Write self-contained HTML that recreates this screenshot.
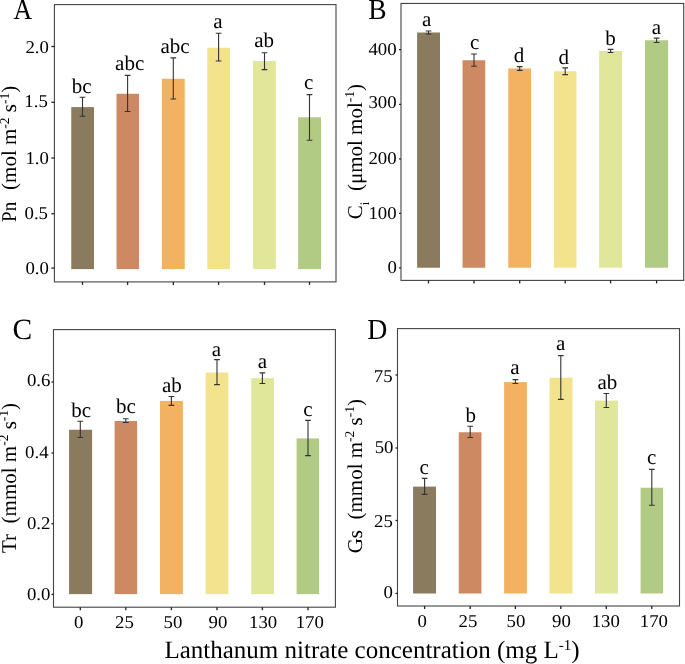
<!DOCTYPE html>
<html><head><meta charset="utf-8"><style>
html,body{margin:0;padding:0;background:#fff;}
svg{display:block;will-change:transform;}
text{font-family:"Liberation Serif", serif;fill:#000;white-space:pre;text-rendering:geometricPrecision;}
</style></head><body>
<svg width="685" height="664" viewBox="0 0 685 664">
<rect width="685" height="664" fill="#fff"/>
<rect x="71.25" y="107.1" width="22.75" height="162" fill="#8a7b5f"/>
<rect x="116.5" y="93.75" width="22.5" height="175.35" fill="#cd8a62"/>
<rect x="161.9" y="78.75" width="22.85" height="190.35" fill="#f3b262"/>
<rect x="207.25" y="47.75" width="22.75" height="221.35" fill="#f3e38d"/>
<rect x="253.1" y="61" width="22.8" height="208.1" fill="#e1e79a"/>
<rect x="298.1" y="117.25" width="22.9" height="151.85" fill="#b2cb84"/>
<path d="M79.65 97.25H85.35M82.5 97.25V116.25M79.65 116.25H85.35" stroke="#333" stroke-width="1.1" fill="none"/>
<text x="81.75" y="93.1" font-size="21" text-anchor="middle">bc</text>
<path d="M124.75 75.4H130.45M127.6 75.4V111.5M124.75 111.5H130.45" stroke="#333" stroke-width="1.1" fill="none"/>
<text x="129.7" y="69.75" font-size="21" text-anchor="middle">abc</text>
<path d="M170.45 57.9H176.15M173.3 57.9V99M170.45 99H176.15" stroke="#333" stroke-width="1.1" fill="none"/>
<text x="175" y="52.75" font-size="21" text-anchor="middle">abc</text>
<path d="M215.75 33.25H221.45M218.6 33.25V61M215.75 61H221.45" stroke="#333" stroke-width="1.1" fill="none"/>
<text x="218" y="28.1" font-size="21" text-anchor="middle">a</text>
<path d="M261.65 52.75H267.35M264.5 52.75V69.6M261.65 69.6H267.35" stroke="#333" stroke-width="1.1" fill="none"/>
<text x="264.1" y="46.5" font-size="21" text-anchor="middle">ab</text>
<path d="M306.65 94.6H312.35M309.5 94.6V140.25M306.65 140.25H312.35" stroke="#333" stroke-width="1.1" fill="none"/>
<text x="308.75" y="88.75" font-size="21" text-anchor="middle">c</text>
<rect x="54.4" y="4.6" width="281.6" height="277.3" fill="none" stroke="#444" stroke-width="1.1"/>
<path d="M51.4 268.1H54.4" stroke="#222" stroke-width="1.3"/>
<text transform="translate(48.9 274.4) scale(1.045 1)" font-size="18" text-anchor="end">0.0</text>
<path d="M51.4 213.7H54.4" stroke="#222" stroke-width="1.3"/>
<text transform="translate(48 218.55) scale(1.045 1)" font-size="18" text-anchor="end">0.5</text>
<path d="M51.4 158H54.4" stroke="#222" stroke-width="1.3"/>
<text transform="translate(48.9 164.3) scale(1.045 1)" font-size="18" text-anchor="end">1.0</text>
<path d="M51.4 102.3H54.4" stroke="#222" stroke-width="1.3"/>
<text transform="translate(47.8 107.1) scale(1.045 1)" font-size="18" text-anchor="end">1.5</text>
<path d="M51.4 46.5H54.4" stroke="#222" stroke-width="1.3"/>
<text transform="translate(48.9 52.7) scale(1.045 1)" font-size="18" text-anchor="end">2.0</text>
<path d="M82.5 281.9V284.9" stroke="#222" stroke-width="1.3"/>
<path d="M127.6 281.9V284.9" stroke="#222" stroke-width="1.3"/>
<path d="M173.3 281.9V284.9" stroke="#222" stroke-width="1.3"/>
<path d="M218.6 281.9V284.9" stroke="#222" stroke-width="1.3"/>
<path d="M264.5 281.9V284.9" stroke="#222" stroke-width="1.3"/>
<path d="M309.5 281.9V284.9" stroke="#222" stroke-width="1.3"/>
<rect x="417.1" y="32.5" width="22.9" height="235.25" fill="#8a7b5f"/>
<rect x="462.5" y="60.25" width="22.75" height="207.5" fill="#cd8a62"/>
<rect x="508.25" y="68.5" width="22.75" height="199.25" fill="#f3b262"/>
<rect x="554" y="71.25" width="22.5" height="196.5" fill="#f3e38d"/>
<rect x="599.1" y="51" width="23" height="216.75" fill="#e1e79a"/>
<rect x="645" y="40.25" width="23.1" height="227.5" fill="#b2cb84"/>
<path d="M425.65 31H431.35M428.5 31V34M425.65 34H431.35" stroke="#333" stroke-width="1.1" fill="none"/>
<text x="426.7" y="26.25" font-size="21" text-anchor="middle">a</text>
<path d="M471.15 54H476.85M474 54V66.25M471.15 66.25H476.85" stroke="#333" stroke-width="1.1" fill="none"/>
<text x="474.7" y="48.5" font-size="21" text-anchor="middle">c</text>
<path d="M516.85 66.6H522.55M519.7 66.6V70.4M516.85 70.4H522.55" stroke="#333" stroke-width="1.1" fill="none"/>
<text x="519.1" y="61.9" font-size="21" text-anchor="middle">d</text>
<path d="M562.35 67.9H568.05M565.2 67.9V74.6M562.35 74.6H568.05" stroke="#333" stroke-width="1.1" fill="none"/>
<text x="563.75" y="63.75" font-size="21" text-anchor="middle">d</text>
<path d="M607.75 49.4H613.45M610.6 49.4V52.5M607.75 52.5H613.45" stroke="#333" stroke-width="1.1" fill="none"/>
<text x="610.5" y="45" font-size="21" text-anchor="middle">b</text>
<path d="M653.75 38.1H659.45M656.6 38.1V42.5M653.75 42.5H659.45" stroke="#333" stroke-width="1.1" fill="none"/>
<text x="656.4" y="34" font-size="21" text-anchor="middle">a</text>
<rect x="401" y="3.46" width="282.7" height="276.94" fill="none" stroke="#444" stroke-width="1.1"/>
<path d="M399 267.9H401" stroke="#222" stroke-width="1.3"/>
<text transform="translate(396.8 273.3) scale(1.045 1)" font-size="18" text-anchor="end">0</text>
<path d="M399 213.4H401" stroke="#222" stroke-width="1.3"/>
<text transform="translate(396.6 218.5) scale(1.045 1)" font-size="18" text-anchor="end">100</text>
<path d="M399 158.8H401" stroke="#222" stroke-width="1.3"/>
<text transform="translate(396.6 164.4) scale(1.045 1)" font-size="18" text-anchor="end">200</text>
<path d="M399 104.4H401" stroke="#222" stroke-width="1.3"/>
<text transform="translate(396.6 107.9) scale(1.045 1)" font-size="18" text-anchor="end">300</text>
<path d="M399 49.7H401" stroke="#222" stroke-width="1.3"/>
<text transform="translate(396.6 55.3) scale(1.045 1)" font-size="18" text-anchor="end">400</text>
<path d="M428.5 280.4V283.4" stroke="#222" stroke-width="1.3"/>
<path d="M474 280.4V283.4" stroke="#222" stroke-width="1.3"/>
<path d="M519.7 280.4V283.4" stroke="#222" stroke-width="1.3"/>
<path d="M565.2 280.4V283.4" stroke="#222" stroke-width="1.3"/>
<path d="M610.6 280.4V283.4" stroke="#222" stroke-width="1.3"/>
<path d="M656.6 280.4V283.4" stroke="#222" stroke-width="1.3"/>
<rect x="69.1" y="429.75" width="23" height="164.35" fill="#8a7b5f"/>
<rect x="114.6" y="421" width="22.5" height="173.1" fill="#cd8a62"/>
<rect x="160" y="400.9" width="22.9" height="193.2" fill="#f3b262"/>
<rect x="205.6" y="372.5" width="22.8" height="221.6" fill="#f3e38d"/>
<rect x="251.25" y="378.1" width="22.75" height="216" fill="#e1e79a"/>
<rect x="296.6" y="438.4" width="22.5" height="155.7" fill="#b2cb84"/>
<path d="M77.45 421.25H83.15M80.3 421.25V437.5M77.45 437.5H83.15" stroke="#333" stroke-width="1.1" fill="none"/>
<text x="81.15" y="416.6" font-size="21" text-anchor="middle">bc</text>
<path d="M122.95 418.75H128.65M125.8 418.75V422.5M122.95 422.5H128.65" stroke="#333" stroke-width="1.1" fill="none"/>
<text x="125.95" y="413.1" font-size="21" text-anchor="middle">bc</text>
<path d="M168.55 396.5H174.25M171.4 396.5V405.4M168.55 405.4H174.25" stroke="#333" stroke-width="1.1" fill="none"/>
<text x="171.9" y="391.9" font-size="21" text-anchor="middle">ab</text>
<path d="M214.15 359.6H219.85M217 359.6V384.6M214.15 384.6H219.85" stroke="#333" stroke-width="1.1" fill="none"/>
<text x="216.35" y="355.6" font-size="21" text-anchor="middle">a</text>
<path d="M259.55 372.9H265.25M262.4 372.9V383.5M259.55 383.5H265.25" stroke="#333" stroke-width="1.1" fill="none"/>
<text x="262.3" y="367.75" font-size="21" text-anchor="middle">a</text>
<path d="M305.15 420.4H310.85M308 420.4V455.6M305.15 455.6H310.85" stroke="#333" stroke-width="1.1" fill="none"/>
<text x="307.8" y="415.9" font-size="21" text-anchor="middle">c</text>
<rect x="53.5" y="329.6" width="281.9" height="277.6" fill="none" stroke="#444" stroke-width="1.1"/>
<path d="M51.5 594.4H53.5" stroke="#222" stroke-width="1.3"/>
<text transform="translate(50.4 599.6) scale(1.045 1)" font-size="18" text-anchor="end">0.0</text>
<path d="M51.5 523.7H53.5" stroke="#222" stroke-width="1.3"/>
<text transform="translate(50.4 529.3) scale(1.045 1)" font-size="18" text-anchor="end">0.2</text>
<path d="M51.5 453H53.5" stroke="#222" stroke-width="1.3"/>
<text transform="translate(48.6 458) scale(1.045 1)" font-size="18" text-anchor="end">0.4</text>
<path d="M51.5 382H53.5" stroke="#222" stroke-width="1.3"/>
<text transform="translate(50.4 386.4) scale(1.045 1)" font-size="18" text-anchor="end">0.6</text>
<path d="M80.3 607.2V610.2" stroke="#222" stroke-width="1.3"/>
<text transform="translate(78.8 627.8) scale(1.045 1)" font-size="18" text-anchor="middle">0</text>
<path d="M125.8 607.2V610.2" stroke="#222" stroke-width="1.3"/>
<text transform="translate(124.45 627.8) scale(1.045 1)" font-size="18" text-anchor="middle">25</text>
<path d="M171.4 607.2V610.2" stroke="#222" stroke-width="1.3"/>
<text transform="translate(172.9 627.8) scale(1.045 1)" font-size="18" text-anchor="middle">50</text>
<path d="M217 607.2V610.2" stroke="#222" stroke-width="1.3"/>
<text transform="translate(217.9 627.8) scale(1.045 1)" font-size="18" text-anchor="middle">90</text>
<path d="M262.4 607.2V610.2" stroke="#222" stroke-width="1.3"/>
<text transform="translate(263.1 627.8) scale(1.045 1)" font-size="18" text-anchor="middle">130</text>
<path d="M308 607.2V610.2" stroke="#222" stroke-width="1.3"/>
<text transform="translate(309.8 627.8) scale(1.045 1)" font-size="18" text-anchor="middle">170</text>
<rect x="413.1" y="486.6" width="22.9" height="106.9" fill="#8a7b5f"/>
<rect x="458.75" y="432.25" width="22.75" height="161.25" fill="#cd8a62"/>
<rect x="504.1" y="382.1" width="22.8" height="211.4" fill="#f3b262"/>
<rect x="549.5" y="377.75" width="23" height="215.75" fill="#f3e38d"/>
<rect x="595" y="400.6" width="22.9" height="192.9" fill="#e1e79a"/>
<rect x="640.6" y="487.75" width="22.5" height="105.75" fill="#b2cb84"/>
<path d="M421.75 478.4H427.45M424.6 478.4V494.4M421.75 494.4H427.45" stroke="#333" stroke-width="1.1" fill="none"/>
<text x="424.05" y="474" font-size="21" text-anchor="middle">c</text>
<path d="M467.35 426.25H473.05M470.2 426.25V437.5M467.35 437.5H473.05" stroke="#333" stroke-width="1.1" fill="none"/>
<text x="470.8" y="421.9" font-size="21" text-anchor="middle">b</text>
<path d="M512.55 379.6H518.25M515.4 379.6V383.5M512.55 383.5H518.25" stroke="#333" stroke-width="1.1" fill="none"/>
<text x="514.8" y="374.4" font-size="21" text-anchor="middle">a</text>
<path d="M557.95 355.6H563.65M560.8 355.6V399.4M557.95 399.4H563.65" stroke="#333" stroke-width="1.1" fill="none"/>
<text x="560.75" y="350.25" font-size="21" text-anchor="middle">a</text>
<path d="M603.45 393.5H609.15M606.3 393.5V407.5M603.45 407.5H609.15" stroke="#333" stroke-width="1.1" fill="none"/>
<text x="607.4" y="388.5" font-size="21" text-anchor="middle">ab</text>
<path d="M648.95 469.4H654.65M651.8 469.4V505.25M648.95 505.25H654.65" stroke="#333" stroke-width="1.1" fill="none"/>
<text x="651.55" y="464.1" font-size="21" text-anchor="middle">c</text>
<rect x="397.5" y="328.6" width="282" height="277.4" fill="none" stroke="#444" stroke-width="1.1"/>
<path d="M395.5 593.4H397.5" stroke="#222" stroke-width="1.3"/>
<text transform="translate(392.8 598.1) scale(1.045 1)" font-size="18" text-anchor="end">0</text>
<path d="M395.5 520.5H397.5" stroke="#222" stroke-width="1.3"/>
<text transform="translate(392.8 526.6) scale(1.045 1)" font-size="18" text-anchor="end">25</text>
<path d="M395.5 448H397.5" stroke="#222" stroke-width="1.3"/>
<text transform="translate(393.5 453.3) scale(1.045 1)" font-size="18" text-anchor="end">50</text>
<path d="M395.5 375H397.5" stroke="#222" stroke-width="1.3"/>
<text transform="translate(392.6 381.7) scale(1.045 1)" font-size="18" text-anchor="end">75</text>
<path d="M424.6 606V609" stroke="#222" stroke-width="1.3"/>
<text transform="translate(422.3 626.6) scale(1.045 1)" font-size="18" text-anchor="middle">0</text>
<path d="M470.2 606V609" stroke="#222" stroke-width="1.3"/>
<text transform="translate(468 626.6) scale(1.045 1)" font-size="18" text-anchor="middle">25</text>
<path d="M515.4 606V609" stroke="#222" stroke-width="1.3"/>
<text transform="translate(516 626.6) scale(1.045 1)" font-size="18" text-anchor="middle">50</text>
<path d="M560.8 606V609" stroke="#222" stroke-width="1.3"/>
<text transform="translate(561.5 626.6) scale(1.045 1)" font-size="18" text-anchor="middle">90</text>
<path d="M606.3 606V609" stroke="#222" stroke-width="1.3"/>
<text transform="translate(605.8 626.6) scale(1.045 1)" font-size="18" text-anchor="middle">130</text>
<path d="M651.8 606V609" stroke="#222" stroke-width="1.3"/>
<text transform="translate(653.9 626.6) scale(1.045 1)" font-size="18" text-anchor="middle">170</text>
<text transform="translate(22.9 18.7) scale(0.89 1)" font-size="29" text-anchor="middle">A</text>
<text transform="translate(377.5 19) scale(0.95 1)" font-size="29" text-anchor="middle">B</text>
<text transform="translate(22.45 338.6) scale(1.0 1)" font-size="29.5" text-anchor="middle">C</text>
<text transform="translate(377.3 338.8) scale(0.96 1)" font-size="29" text-anchor="middle">D</text>
<text transform="translate(16.3 221.9) rotate(-90) scale(0.905 1)" font-size="21">Pn</text>
<text transform="translate(16.3 189.9) rotate(-90)" font-size="21">(mol m<tspan font-size="13.5" dy="-7.3">-2</tspan><tspan dy="7.3"> s</tspan><tspan font-size="13.5" dy="-7.3">-1</tspan><tspan dy="7.3">)</tspan></text>
<text transform="translate(361.5 219.2) rotate(-90)" font-size="21">C<tspan font-size="13" dy="7">i</tspan><tspan dy="-7">  (μmol mol</tspan><tspan font-size="13.5" dy="-7.3">-1</tspan><tspan dy="7.3">)</tspan></text>
<text transform="translate(15.7 553) rotate(-90)" font-size="21">Tr  (mmol m<tspan font-size="13.5" dy="-7.3">-2</tspan><tspan dy="7.3"> s</tspan><tspan font-size="13.5" dy="-7.3">-1</tspan><tspan dy="7.3">)</tspan></text>
<text transform="translate(361.6 553.3) rotate(-90)" font-size="21">Gs  (mmol m<tspan font-size="13.5" dy="-7.3">-2</tspan><tspan dy="7.3"> s</tspan><tspan font-size="13.5" dy="-7.3">-1</tspan><tspan dy="7.3">)</tspan></text>
<text x="164.4" y="658.2" font-size="25">Lanthanum nitrate concentration (mg L<tspan font-size="15" dy="-8">-1</tspan><tspan dy="8">)</tspan></text>
</svg>
</body></html>
